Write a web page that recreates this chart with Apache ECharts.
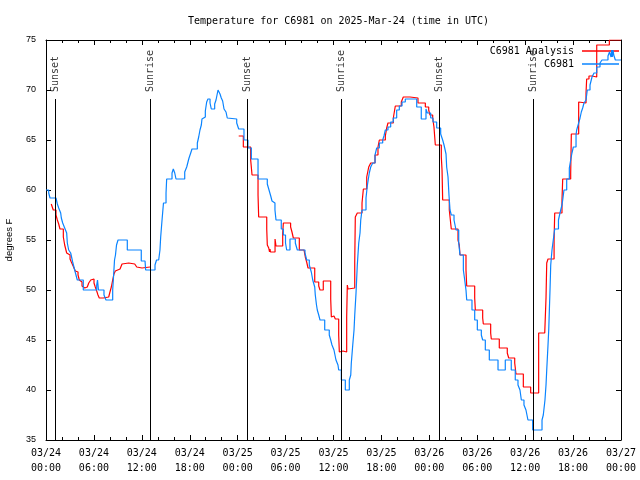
<!DOCTYPE html>
<html><head><meta charset="utf-8">
<script src="https://cdn.jsdelivr.net/npm/echarts@6/dist/echarts.min.js"></script>
<style>html,body{margin:0;padding:0;background:#fff}#c{width:640px;height:480px}</style>
</head><body><div id="c"></div>
<script>
const obsHours = [0,0.34,0.50,1.25,1.42,1.59,1.84,1.92,2.09,2.34,2.59,2.67,2.84,3.09,3.34,3.59,3.84,3.92,4.67,6.35,6.45,6.57,7.26,7.51,8.35,8.43,8.58,8.70,8.83,9.02,10.18,11.93,12.40,12.48,13.65,13.84,14.11,14.27,14.36,14.53,14.71,15.03,15.11,15.78,15.94,16.12,16.28,17.37,17.62,17.78,17.91,18.12,18.28,18.95,19.12,19.28,19.45,19.53,19.78,19.95,20.12,20.28,20.54,20.70,21.12,21.29,21.54,21.79,21.95,22.12,22.29,22.54,22.70,22.88,23.88,24.13,24.79,25.29,25.71,26.55,27.71,27.89,28.14,28.30,28.46,28.67,28.80,29.46,29.72,29.99,30.14,30.55,31.22,31.47,32.43,32.64,32.97,33.22,33.40,33.65,33.72,33.87,33.97,34.15,34.31,34.90,35.47,35.65,35.81,36.06,36.31,36.56,36.65,36.98,37.48,37.98,38.16,38.23,38.41,38.57,38.66,38.82,38.98,39.16,39.32,39.41,39.57,40.07,40.23,40.48,40.66,40.91,41.20,41.41,41.74,42.16,42.32,42.49,42.82,43.16,43.49,43.91,44.24,44.58,44.99,46.42,46.99,47.58,47.75,48.17,48.46,48.92,49.42,49.67,49.84,50.09,50.17,50.34,50.46,50.59,50.75,51.09,51.34,51.68,51.84,52.26,52.43,52.59,52.68,53.34,53.68,54.01,54.51,54.68,55.01,55.51,56.60,57.51,58.26,58.76,59.10,59.35,59.52,59.85,60.10,60.35,60.94,62.11,62.27,62.48,62.61,62.70,62.86,62.95,63.11,63.20,63.36,63.52,63.70,64.17,64.36,64.61,64.70,64.86,65.20,65.53,65.70,65.86,66.03,66.37,66.45,66.62,66.70,66.87,67.03,67.20,67.37,67.62,67.78,68.12,68.37,68.62,68.96,69.37,69.62,70.37,70.56,70.66,70.75,70.84,70.91,71.00,71.09,71.29,72];
const obsTemps = [60.0,59.7,59.2,59.0,58.6,58.2,57.7,57.2,56.7,56.2,55.7,54.7,54.0,53.7,52.8,52.0,51.8,51.0,50.0,50.5,51.0,50.0,49.5,49.0,50.0,51.0,53.0,53.5,54.5,55.0,54.0,52.9,52.7,52.0,52.5,53.0,53.2,54.0,55.3,57.0,58.7,59.7,61.1,61.7,62.1,61.7,61.1,61.8,62.3,62.8,63.2,63.7,64.1,64.7,65.3,66.0,66.5,67.1,67.3,67.9,68.8,69.1,68.7,68.1,68.6,69.0,70.0,69.6,69.2,68.9,68.1,67.8,67.2,67.1,66.7,66.1,65.0,64.2,63.1,61.1,60.6,60.1,59.4,58.9,58.7,58.0,57.0,56.1,55.5,54.7,54.0,55.1,54.7,54.0,53.7,53.0,52.5,51.8,51.0,50.3,49.5,48.5,48.0,47.5,47.0,46.0,45.5,45.0,44.5,44.0,43.0,42.5,42.0,41.0,40.0,41.0,41.5,42.7,44.5,46.0,47.5,49.7,52.5,54.7,55.7,57.0,58.0,59.2,60.4,61.7,62.3,62.7,63.5,64.2,64.7,65.0,65.4,66.0,66.3,66.8,67.2,68.0,68.4,68.8,69.1,68.3,67.1,68.1,67.7,67.2,66.8,66.2,65.6,65.0,64.5,63.6,62.3,61.3,59.5,58.0,57.5,57.0,56.0,54.7,53.5,52.0,51.0,50.0,49.0,48.0,47.0,46.0,45.5,45.0,44.0,43.0,42.0,43.0,42.0,41.0,40.5,40.0,39.0,38.5,38.0,37.0,36.0,37.0,37.5,39.0,40.5,42.0,44.5,46.0,50.0,52.5,54.0,55.0,56.1,57.0,57.7,58.5,59.0,60.0,61.1,62.2,63.0,63.7,64.3,65.5,66.0,66.2,66.7,67.2,67.8,68.2,68.7,69.0,70.0,70.5,71.3,71.7,72.3,72.7,73.0,73.4,73.8,74.0,73.3,74.0,73.3,74.0,73.5,73.0,73.0];

const anaHours = [0.66,0.91,1.25,1.42,1.59,1.75,2.17,2.34,2.59,2.84,3.01,3.17,3.34,3.51,3.67,3.84,4.01,4.17,4.35,4.51,4.67,4.85,5.01,5.17,5.35,5.60,5.85,6.01,6.17,6.35,6.51,6.67,7.17,7.85,8.01,8.18,8.35,8.51,8.68,8.93,9.27,9.52,9.77,10.36,11.11,11.36,11.61,12.02,13.02,13.10,24.13,24.71,25.63,25.80,26.55,26.63,27.64,27.71,27.89,27.99,28.05,28.11,28.68,28.80,29.64,29.72,30.63,30.80,30.97,31.72,32.31,32.47,32.64,32.81,33.65,34.15,34.31,34.72,35.65,35.73,35.90,36.06,36.23,36.65,36.73,36.98,37.19,37.65,37.73,37.82,37.94,38.66,38.73,38.98,39.57,39.74,40.16,40.41,40.66,41.20,41.57,41.74,42.49,42.66,42.82,43.49,43.74,44.49,44.74,45.58,46.58,47.50,47.92,48.08,48.42,48.58,48.75,49.50,49.59,49.67,50.50,50.75,51.59,51.75,51.84,52.59,52.68,53.68,53.76,54.68,54.76,55.68,55.76,56.76,57.76,57.94,58.69,58.85,59.77,60.69,60.98,61.10,61.69,62.45,62.61,62.70,62.86,63.62,63.70,64.61,64.70,65.70,65.78,66.70,66.87,67.62,67.70,67.99,68.37,68.96,70.54,72];
const anaTemps = [58.6,58.0,57.5,57.0,56.6,56.1,55.3,54.5,53.7,53.5,53.1,52.8,52.5,52.2,51.9,51.8,51.5,51.0,50.8,50.4,50.2,50.1,50.3,50.5,50.7,51.0,51.1,50.7,50.3,49.9,49.5,49.2,49.3,49.4,49.8,50.3,51.0,51.6,51.9,52.1,52.3,52.6,52.7,52.6,52.5,52.3,52.2,52.3,52.3,null,65.4,64.3,63.0,61.5,59.5,57.3,56.1,54.5,54.2,53.8,54.1,53.8,55.1,54.4,55.7,56.7,56.3,55.8,55.2,54.0,53.8,53.3,52.8,52.2,50.8,50.4,50.0,50.9,49.1,47.3,47.4,47.3,47.1,45.5,43.8,43.9,43.8,47.3,50.5,50.1,50.2,52.8,57.3,57.7,58.7,60.1,61.3,62.3,62.7,63.5,64.3,65.0,65.4,66.2,66.7,67.2,68.4,68.8,69.3,69.2,68.7,68.3,68.0,67.5,67.2,66.3,64.5,63.3,62.0,59.0,58.0,56.1,55.0,54.5,53.5,52.0,50.4,49.2,48.0,47.2,46.6,45.7,45.1,44.2,43.7,43.2,42.7,41.6,40.3,39.7,39.5,39.7,45.7,45.8,49.2,52.7,53.1,55.0,57.7,59.0,61.1,61.7,65.6,68.8,68.7,69.7,71.1,71.4,71.3,74.5,75.0,75.0];

const sunHours = [1.17,13.07,25.21,36.98,49.25,61.02];
const sunLabels = ['Sunset','Sunrise','Sunset','Sunrise','Sunset','Sunrise'];
const xTickLabels = ['03/24\n00:00','03/24\n06:00','03/24\n12:00','03/24\n18:00','03/25\n00:00','03/25\n06:00','03/25\n12:00','03/25\n18:00','03/26\n00:00','03/26\n06:00','03/26\n12:00','03/26\n18:00','03/27\n00:00'];

const MONO = '"DejaVu Sans Mono", "Liberation Mono", monospace';
const SANS = '"Liberation Sans", Arial, sans-serif';
const LINE_TOP = 69.1, LABEL_BASE = 69.8;
const RED = '#ff0000', BLUE = '#0a84ff';

const obs = obsHours.map((h,i)=>[h,obsTemps[i]]);
const ana = anaHours.map((h,i)=>[h,anaTemps[i]]);
const sunPts = sunHours.map((h,i)=>[h,LABEL_BASE,sunLabels[i]]);
const sunLines = sunHours.map(h=>[{coord:[h,35]},{coord:[h,LINE_TOP]}]);

const chart = echarts.init(document.getElementById('c'), null, {renderer:'canvas'});
const axisLine = {show:true, onZero:false, lineStyle:{color:'#000', width:1}};
chart.setOption({
  animation:false,
  backgroundColor:'#fff',
  title:{text:'Temperature for C6981 on 2025-Mar-24 (time in UTC)', left:333.5, textAlign:'center', top:11,
    textStyle:{fontFamily:MONO, fontSize:10, fontWeight:'normal', color:'#000'}},
  legend:{orient:'vertical', right:21, top:44.5, align:'right', itemWidth:37, itemHeight:1.5, itemGap:0, padding:0,
    icon:'rect',
    data:[{name:'C6981 Analysis', itemStyle:{color:RED}}, {name:'C6981', itemStyle:{color:BLUE}}],
    textStyle:{fontFamily:MONO, fontSize:10, color:'#000', lineHeight:13, height:13, padding:[0,3,0,0]}},
  grid:{left:46, right:19, top:40, bottom:40, containLabel:false, outerBoundsMode:'none'},
  xAxis:[{type:'value', min:0, max:72, interval:6, position:'bottom', axisLine,
    axisTick:{show:true, inside:true, length:5, lineStyle:{color:'#000'}},
    minorTick:{show:true, splitNumber:3, length:3, lineStyle:{color:'#000'}},
    splitLine:{show:false},
    axisLabel:{formatter:v=>xTickLabels[Math.round(v/6)], fontFamily:MONO, fontSize:10, color:'#000', lineHeight:15, margin:6}},
   {type:'value', min:0, max:72, interval:6, position:'top', axisLine,
    axisTick:{show:true, inside:true, length:5, lineStyle:{color:'#000'}},
    minorTick:{show:true, splitNumber:3, length:3, lineStyle:{color:'#000'}},
    splitLine:{show:false}, axisLabel:{show:false}}],
  yAxis:[{type:'value', min:35, max:75, interval:5, position:'left', axisLine,
    axisTick:{show:true, inside:true, length:5, lineStyle:{color:'#000'}},
    splitLine:{show:false},
    axisLabel:{fontFamily:SANS, fontSize:9, color:'#000', margin:10},
    name:'degrees F', nameLocation:'middle', nameRotate:90, nameGap:32,
    nameTextStyle:{fontFamily:SANS, fontSize:9.5, color:'#000'}},
   {type:'value', min:35, max:75, interval:5, position:'right', axisLine,
    axisTick:{show:true, inside:true, length:5, lineStyle:{color:'#000'}},
    splitLine:{show:false}, axisLabel:{show:false}}],
  series:[
    {name:'C6981 Analysis', type:'line', step:'end', data:ana, showSymbol:false, symbol:'none', connectNulls:false,
      lineStyle:{color:RED, width:1.2}, itemStyle:{color:RED}, z:3},
    {name:'C6981', type:'line', step:'end', data:obs, showSymbol:false, symbol:'none',
      lineStyle:{color:BLUE, width:1.2}, itemStyle:{color:BLUE}, z:4},
    {name:'sun', type:'scatter', data:sunPts, symbolSize:0, silent:true, z:5,
      label:{show:true, position:'inside', formatter:p=>p.data[2], rotate:90, align:'left', verticalAlign:'middle',
        fontFamily:MONO, fontSize:10, color:'#000'},
      markLine:{silent:true, symbol:['none','none'], label:{show:false}, lineStyle:{color:'#000', width:1, type:'solid'},
        data:sunLines}}
  ]
});
</script></body></html>
